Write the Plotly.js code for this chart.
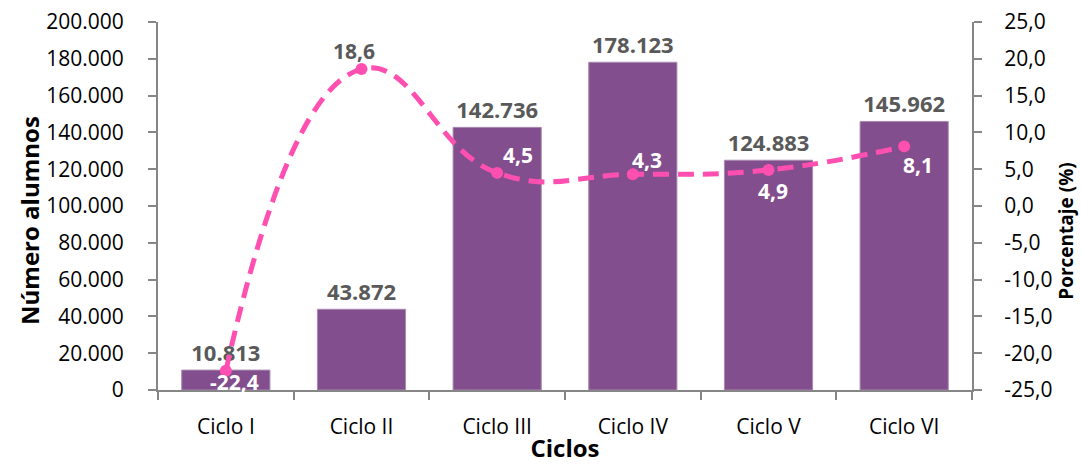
<!DOCTYPE html>
<html>
<head>
<meta charset="utf-8">
<script src="https://cdn.plot.ly/plotly-3.0.1.min.js"></script>
<style>html,body{margin:0;padding:0;background:#fff}#chart{width:1081px;height:464px}</style>
</head>
<body>
<div id="chart"></div>
<script>
const ciclos = ["Ciclo I", "Ciclo II", "Ciclo III", "Ciclo IV", "Ciclo V", "Ciclo VI"];
const alumnos = [10813, 43872, 142736, 178123, 124883, 145962];
const porcentaje = [-22.4, 18.6, 4.5, 4.3, 4.9, 8.1];
const leftTicks = [0, 20000, 40000, 60000, 80000, 100000, 120000, 140000, 160000, 180000, 200000];
const rightTicks = [-25, -20, -15, -10, -5, 0, 5, 10, 15, 20, 25];

const thousands = v => String(v).replace(/\B(?=(\d{3})+(?!\d))/g, '.');
const dec1 = v => v.toFixed(1).replace('.', ',');

const FONT = '"Open Sans", "Noto Sans", sans-serif';
const AXIS = '#868686';
const PINK = '#FF4FB0';

const bars = {
  type: 'bar', x: ciclos, y: alumnos,
  marker: {color: '#834E8D', line: {color: '#A98BB0', width: 1}},
  text: alumnos.map(thousands), textposition: 'outside',
  textfont: {family: FONT, size: 22, color: '#595959', weight: 'bold'},
  cliponaxis: false, hoverinfo: 'skip', width: 0.65
};
const line = {
  type: 'scatter', x: ciclos, y: porcentaje, yaxis: 'y2',
  mode: 'lines+markers',
  line: {color: PINK, width: 5, dash: '16px,9px', shape: 'spline', smoothing: 1.3},
  marker: {color: PINK, size: 12},
  cliponaxis: false, hoverinfo: 'skip'
};

// label placement around each point (pixels)
const labelShift = [[9, -11], [-8, 18], [21, 18], [14, 14], [4, -21], [14, -19]];
const labelColor = ['#FFFFFF', '#595959', '#FFFFFF', '#FFFFFF', '#FFFFFF', '#FFFFFF'];
const annotations = porcentaje.map((v, i) => ({
  x: ciclos[i], y: v, xref: 'x', yref: 'y2',
  text: dec1(v), showarrow: false,
  xanchor: 'center', yanchor: 'middle',
  xshift: labelShift[i][0], yshift: labelShift[i][1],
  font: {family: FONT, size: 21, weight: 'bold', color: labelColor[i]}
}));
// axis titles for the two value axes
annotations.push({
  xref: 'paper', yref: 'paper', x: -0.157, y: 0.46,
  xanchor: 'center', yanchor: 'middle', textangle: -90, showarrow: false,
  text: 'Número alumnos',
  font: {family: FONT, size: 24, weight: 'bold', color: '#000'}
});
annotations.push({
  xref: 'paper', yref: 'paper', x: 1.1155, y: 0.43,
  xanchor: 'center', yanchor: 'middle', textangle: -90, showarrow: false,
  text: 'Porcentaje (%)',
  font: {family: FONT, size: 19, weight: 'bold', color: '#000'}
});

const layout = {
  width: 1081, height: 464,
  margin: {l: 158, r: 109, t: 22, b: 74},
  paper_bgcolor: '#fff', plot_bgcolor: '#fff',
  showlegend: false,
  font: {family: FONT, size: 21, color: '#000'},
  annotations: annotations,
  xaxis: {
    type: 'category', range: [-0.5, 5.5],
    showline: true, linecolor: AXIS, linewidth: 2,
    ticks: 'outside', tickson: 'boundaries', ticklen: 8, tickcolor: AXIS, tickwidth: 2,
    ticklabelstandoff: 17,
    tickfont: {family: FONT, size: 21, color: '#000'},
    title: {text: 'Ciclos', font: {family: FONT, size: 24, weight: 'bold', color: '#000'}, standoff: 0},
    showgrid: false, zeroline: false
  },
  yaxis: {
    range: [0, 200000], tickvals: leftTicks, ticktext: leftTicks.map(thousands),
    showline: true, linecolor: AXIS, linewidth: 2,
    ticks: 'outside', ticklen: 8, tickcolor: AXIS, tickwidth: 2,
    ticklabelstandoff: 20,
    tickfont: {family: FONT, size: 21, color: '#000'},
    showgrid: false, zeroline: false
  },
  yaxis2: {
    overlaying: 'y', side: 'right',
    range: [-25, 25], tickvals: rightTicks, ticktext: rightTicks.map(dec1),
    showline: true, linecolor: AXIS, linewidth: 2,
    ticks: 'outside', ticklen: 8, tickcolor: AXIS, tickwidth: 2,
    ticklabelstandoff: 18,
    tickfont: {family: FONT, size: 21, color: '#000'},
    showgrid: false, zeroline: false
  }
};

Plotly.newPlot('chart', [bars, line], layout, {displayModeBar: false, staticPlot: true});
</script>
</body>
</html>
